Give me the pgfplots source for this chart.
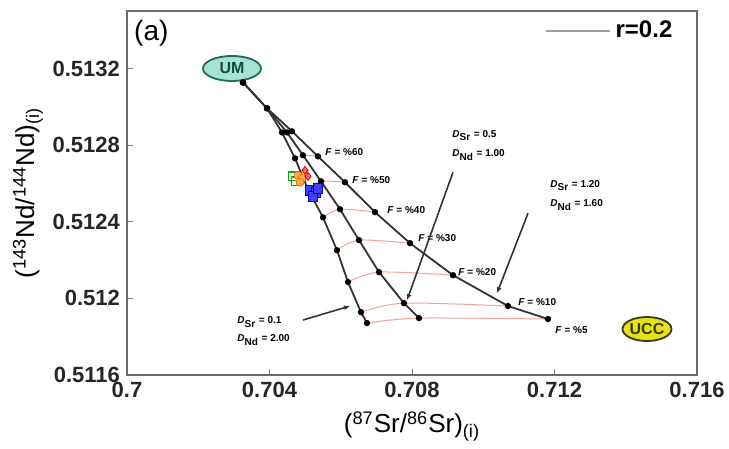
\documentclass[border=0pt]{standalone}
\usepackage{fontspec}
\setmainfont{Liberation Sans}
\usepackage{pgfplots}
\pgfplotsset{compat=1.18}
\usetikzlibrary{shapes.geometric,arrows.meta}
\definecolor{curvec}{HTML}{333333}
\definecolor{mixc}{HTML}{F2A39B}
\definecolor{umfill}{HTML}{A6E3D3}
\definecolor{umdraw}{HTML}{1F6B5C}
\definecolor{uccfill}{HTML}{E6E21A}
\definecolor{uccdraw}{HTML}{3A3A10}
\begin{document}
\begin{tikzpicture}
\useasboundingbox (0,0) rectangle (364.5pt,224.5pt);
\begin{axis}[
  at={(63.5pt,37pt)}, anchor=south west,
  scale only axis, width=285pt, height=182pt,
  xmin=0.7, xmax=0.716, ymin=0.5116, ymax=0.5135,
  xtick={0.7,0.704,0.708,0.712,0.716},
  xticklabels={0.7,0.704,0.708,0.712,0.716},
  ytick={0.5116,0.512,0.5124,0.5128,0.5132},
  yticklabels={0.5116,0.512,0.5124,0.5128,0.5132},
  tick pos=left,
  major tick length=3pt,
  tick style={gray, line width=0.5pt},
  axis line style={gray!85!black, line width=0.9pt},
  ticklabel style={font=\fontsize{11}{12}\selectfont\bfseries, text=black!85},
  xlabel={(\textsuperscript{87}Sr/\textsuperscript{86}Sr)\textsubscript{(i)}},
  ylabel={(\textsuperscript{143}Nd/\textsuperscript{144}Nd)\textsubscript{(i)}},
  label style={font=\fontsize{13}{14}\selectfont},
  xlabel style={yshift=0pt},
  ylabel style={yshift=-2pt},
  legend style={draw=none, fill=none, at={(0.975,0.995)}, anchor=north east,
    font=\fontsize{12}{13}\selectfont\bfseries},
  legend cell align=left,
  legend image code/.code={\draw[#1] (0pt,0pt) -- (32pt,0pt);},
  clip=false,
]
\addlegendimage{gray!75, line width=1.2pt}
\addlegendentry{r=0.2}

% mixing (red) lines at equal F
\addplot[mixc, line width=0.5pt, smooth, forget plot] coordinates {(0.704716,0.512731) (0.704940,0.512747) (0.705361,0.512741)};
\addplot[mixc, line width=0.5pt, smooth, forget plot] coordinates {(0.705081,0.512569) (0.705446,0.512611) (0.706119,0.512606)};
\addplot[mixc, line width=0.5pt, smooth, forget plot] coordinates {(0.705502,0.512423) (0.705979,0.512465) (0.706961,0.512450)};
\addplot[mixc, line width=0.5pt, smooth, forget plot] coordinates {(0.705895,0.512251) (0.706512,0.512304) (0.707944,0.512288)};
\addplot[mixc, line width=0.5pt, smooth, forget plot] coordinates {(0.706203,0.512085) (0.707074,0.512137) (0.709151,0.512121)};
\addplot[mixc, line width=0.5pt, smooth, forget plot] coordinates {(0.706568,0.511928) (0.707775,0.511975) (0.710695,0.511960)};
\addplot[mixc, line width=0.5pt, smooth, forget plot] coordinates {(0.706737,0.511871) (0.708196,0.511897) (0.711818,0.511892)};

% curve 1: DSr=0.1, DNd=2.00
\addplot[curvec, line width=0.9pt, mark=*, mark size=1.1pt, mark options={black}, forget plot] coordinates {
 (0.703256,0.513127) (0.703930,0.512992) (0.704351,0.512866) (0.704716,0.512731) (0.705081,0.512569)
 (0.705502,0.512423) (0.705895,0.512251) (0.706203,0.512085) (0.706568,0.511928) (0.706737,0.511871)};
% curve 2: DSr=0.5, DNd=1.00
\addplot[curvec, line width=0.9pt, mark=*, mark size=1.1pt, mark options={black}, forget plot] coordinates {
 (0.703256,0.513127) (0.703930,0.512992) (0.704491,0.512866) (0.704940,0.512747) (0.705446,0.512611)
 (0.705979,0.512465) (0.706512,0.512304) (0.707074,0.512137) (0.707775,0.511975) (0.708196,0.511897)};
% curve 3: DSr=1.20, DNd=1.60
\addplot[curvec, line width=0.9pt, mark=*, mark size=1.1pt, mark options={black}, forget plot] coordinates {
 (0.703256,0.513127) (0.703930,0.512992) (0.704632,0.512872) (0.705361,0.512741) (0.706119,0.512606)
 (0.706961,0.512450) (0.707944,0.512288) (0.709151,0.512121) (0.710695,0.511960) (0.711818,0.511892)};

% samples
\addplot[only marks, mark=square, mark size=2.2pt, draw=green!70!black, line width=0.6pt, forget plot] coordinates {(0.70466,0.512637) (0.704744,0.512611)};
\addplot[only marks, mark=*, mark size=2pt, draw=orange!90!black, fill=orange!70, forget plot] coordinates {(0.7048,0.512642) (0.704912,0.512627) (0.704856,0.512606)};
\addplot[only marks, mark=diamond*, mark size=2pt, draw=red!80!black, fill=red!60, forget plot] coordinates {(0.704997,0.512668) (0.705081,0.512637)};
\addplot[only marks, mark=square*, mark size=2.4pt, draw=blue!80!black, fill=blue!75, forget plot] coordinates {(0.705137,0.512564) (0.705305,0.512554) (0.705221,0.512533) (0.705361,0.512575)};

% end-member labels
\node[ellipse, draw=umdraw, fill=umfill, line width=0.9pt, minimum width=29pt, minimum height=12.5pt, inner sep=0pt,
  font=\fontsize{8}{9}\selectfont\bfseries, text=umdraw!70!black] at (axis cs:0.702947,0.5132) {UM};
\node[ellipse, draw=uccdraw, fill=uccfill, line width=0.9pt, minimum width=24pt, minimum height=12pt, inner sep=0pt,
  font=\fontsize{8}{9}\selectfont\bfseries, text=uccdraw] at (axis cs:0.714596,0.51184) {UCC};

% F labels
\begin{scope}[every node/.style={anchor=west, inner sep=0pt, font=\fontsize{5}{6}\selectfont\bfseries}]
\node at (axis cs:0.705558,0.512762) {\textit{F} = \%60};
\node at (axis cs:0.706316,0.512616) {\textit{F} = \%50};
\node at (axis cs:0.707298,0.512460) {\textit{F} = \%40};
\node at (axis cs:0.708168,0.512314) {\textit{F} = \%30};
\node at (axis cs:0.709291,0.512137) {\textit{F} = \%20};
\node at (axis cs:0.710975,0.511980) {\textit{F} = \%10};
\node at (axis cs:0.712014,0.511835) {\textit{F} = \%5};
\node at (axis cs:0.709123,0.512851) {\textit{D}\textsubscript{Sr} = 0.5};
\node at (axis cs:0.709123,0.512747) {\textit{D}\textsubscript{Nd} = 1.00};
\node at (axis cs:0.711874,0.512590) {\textit{D}\textsubscript{Sr} = 1.20};
\node at (axis cs:0.711874,0.512486) {\textit{D}\textsubscript{Nd} = 1.60};
\node at (axis cs:0.703088,0.511876) {\textit{D}\textsubscript{Sr} = 0.1};
\node at (axis cs:0.703088,0.511782) {\textit{D}\textsubscript{Nd} = 2.00};
\end{scope}
\draw[curvec, line width=0.8pt, -{Latex[length=3pt,width=2.5pt]}] (axis cs:0.709151,0.512658) -- (axis cs:0.707860,0.511991);
\draw[curvec, line width=0.8pt, -{Latex[length=3pt,width=2.5pt]}] (axis cs:0.711256,0.512444) -- (axis cs:0.710386,0.512027);
\draw[curvec, line width=0.8pt, -{Latex[length=3pt,width=2.5pt]}] (axis cs:0.704940,0.511887) -- (axis cs:0.706260,0.511960);

\node[anchor=north west, font=\fontsize{14}{15}\selectfont, inner sep=0pt] at (axis description cs:0.012,0.975) {(a)};
\end{axis}
\end{tikzpicture}
\end{document}
